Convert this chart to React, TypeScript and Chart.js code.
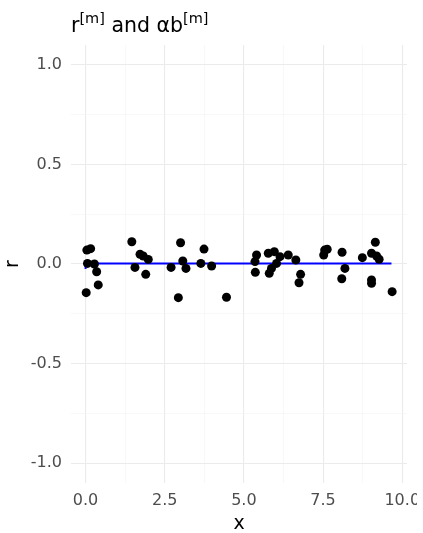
import React, { useEffect, useRef } from "react";
import { Chart, registerables } from "chart.js";

Chart.register(...registerables);

// Observed residuals r
const pointX = [
  0.02, 0.04, 0.16, 0.06, 0.28, 0.35, 0.40,
  1.46, 1.56, 1.72, 1.82, 1.90, 1.98,
  2.70, 2.93, 3.00, 3.07, 3.17,
  3.64, 3.74, 3.98, 4.45,
  5.35, 5.36, 5.40, 5.77, 5.80, 5.87, 5.96, 6.03, 6.14, 6.40, 6.64, 6.74, 6.79,
  7.52, 7.55, 7.63, 8.09, 8.10, 8.19, 8.74,
  9.03, 9.03, 9.03, 9.15, 9.19, 9.27, 9.68,
];
const pointY = [
  -0.144, 0.070, 0.077, 0.003, 0.000, -0.039, -0.105,
  0.112, -0.017, 0.049, 0.040, -0.052, 0.023,
  -0.017, -0.169, 0.107, 0.015, -0.022,
  0.003, 0.075, -0.010, -0.167,
  0.012, -0.042, 0.045, 0.054, -0.047, -0.022, 0.062, 0.003, 0.037, 0.045, 0.020, -0.094, -0.052,
  0.045, 0.070, 0.074, -0.074, 0.059, -0.022, 0.032,
  0.054, -0.080, -0.097, 0.109, 0.040, 0.024, -0.139,
];

// Fitted step function alpha*b
const stepX = [0, 0.93, 9.66];
const stepY = [-0.025, 0.002, 0.002];

const xTickValues = [0, 2.5, 5, 7.5, 10];
const xTickLabels = ["0.0", "2.5", "5.0", "7.5", "10.0"];
const yTickValues = [-1, -0.5, 0, 0.5, 1];
const yTickLabels = ["-1.0", "-0.5", "0.0", "0.5", "1.0"];

const FONT = "'DejaVu Sans', sans-serif";
const MAJOR = "#ebebeb";
const MINOR = "#f4f4f4";
const TICK_SIZE = 16;

function labelFor(v: number, values: number[], labels: string[]): string {
  const i = values.findIndex((t) => Math.abs(t - v) < 1e-6);
  return i >= 0 ? labels[i] : "";
}

function isMajor(v: number, values: number[]): boolean {
  return values.some((t) => Math.abs(t - v) < 1e-6);
}

// Title with bracketed superscripts
const titlePlugin = {
  id: "supTitle",
  afterDraw(chart: Chart) {
    const ctx = chart.ctx;
    const parts: { text: string; sup: boolean }[] = [
      { text: "r", sup: false },
      { text: "[m]", sup: true },
      { text: " and αb", sup: false },
      { text: "[m]", sup: true },
    ];
    const base = 20.5;
    const small = 14.5;
    let x = 71;
    const baseline = 31.5;
    ctx.save();
    ctx.fillStyle = "#000000";
    ctx.textBaseline = "alphabetic";
    ctx.textAlign = "left";
    for (const p of parts) {
      ctx.font = `${p.sup ? small : base}px ${FONT}`;
      ctx.fillText(p.text, x, p.sup ? baseline - 8.5 : baseline);
      x += ctx.measureText(p.text).width;
    }
    ctx.restore();
  },
};

export default function App() {
  const ref = useRef<HTMLCanvasElement | null>(null);

  useEffect(() => {
    if (!ref.current) return;
    const chart = new Chart(ref.current, {
      type: "scatter",
      data: {
        datasets: [
          {
            type: "line",
            label: "αb",
            data: stepX.map((x, i) => ({ x, y: stepY[i] })),
            borderColor: "#0000ff",
            borderWidth: 2,
            stepped: "after",
            pointRadius: 0,
            fill: false,
            order: 2,
          },
          {
            type: "scatter",
            label: "r",
            data: pointX.map((x, i) => ({ x, y: pointY[i] })),
            backgroundColor: "#000000",
            borderColor: "#000000",
            borderWidth: 0,
            pointRadius: 4.5,
            order: 1,
          },
        ],
      },
      options: {
        responsive: false,
        animation: false,
        layout: { autoPadding: false, padding: { top: 45, right: 10, left: 0, bottom: 0 } },
        plugins: {
          legend: { display: false },
          tooltip: { enabled: false },
        },
        scales: {
          x: {
            type: "linear",
            min: -0.46,
            max: 10.15,
            border: { display: false },
            afterBuildTicks(scale: any) {
              const ticks = [];
              for (let v = 0; v <= 10.001; v += 1.25) ticks.push({ value: v });
              scale.ticks = ticks;
            },
            afterFit(scale: any) {
              scale.height = 50;
              scale.paddingLeft = 0;
              scale.paddingRight = 0;
            },
            grid: {
              drawTicks: false,
              color: (c: any) => (isMajor(c.tick.value, xTickValues) ? MAJOR : MINOR),
              lineWidth: (c: any) => (isMajor(c.tick.value, xTickValues) ? 1.1 : 0.6),
            },
            ticks: {
              color: "#4d4d4d",
              font: { family: FONT, size: TICK_SIZE },
              padding: 8,
              maxRotation: 0,
              autoSkip: false,
              callback: (v: any) => labelFor(Number(v), xTickValues, xTickLabels),
            },
            title: {
              display: true,
              text: "x",
              color: "#000000",
              font: { family: FONT, size: 19 },
              padding: { top: 0, bottom: -2 },
            },
          },
          y: {
            type: "linear",
            min: -1.1,
            max: 1.1,
            border: { display: false },
            afterBuildTicks(scale: any) {
              const ticks = [];
              for (let v = -1; v <= 1.001; v += 0.25) ticks.push({ value: Math.round(v * 100) / 100 });
              scale.ticks = ticks;
            },
            afterFit(scale: any) {
              scale.width = 71;
              scale.paddingTop = 0;
              scale.paddingBottom = 0;
            },
            grid: {
              drawTicks: false,
              color: (c: any) => (isMajor(c.tick.value, yTickValues) ? MAJOR : MINOR),
              lineWidth: (c: any) => (isMajor(c.tick.value, yTickValues) ? 1.1 : 0.6),
            },
            ticks: {
              color: "#4d4d4d",
              font: { family: FONT, size: TICK_SIZE },
              padding: 9,
              autoSkip: false,
              callback: (v: any) => labelFor(Number(v), yTickValues, yTickLabels),
            },
            title: {
              display: true,
              text: "r",
              color: "#000000",
              font: { family: FONT, size: 19 },
              padding: { top: 2, bottom: 0 },
            },
          },
        },
      },
      plugins: [titlePlugin],
    });
    return () => chart.destroy();
  }, []);

  return (
    <div style={{ position: "absolute", left: 0, top: 0, width: 417, height: 533 }}>
      <canvas ref={ref} width={417} height={533} style={{ width: 417, height: 533, display: "block" }} />
    </div>
  );
}
